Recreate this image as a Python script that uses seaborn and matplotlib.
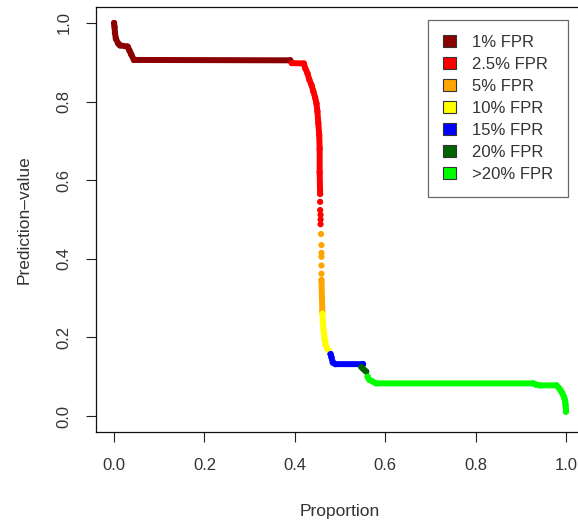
import matplotlib
matplotlib.use("Agg")
import matplotlib.pyplot as plt
from matplotlib.patches import Patch
import numpy as np
import pandas as pd
import seaborn as sns

# FPR classes and their colours
fpr_classes = ["1% FPR", "2.5% FPR", "5% FPR", "10% FPR", "15% FPR", "20% FPR", ">20% FPR"]
fpr_colors = ["#8B0000", "#FF0000", "#FFA500", "#FFFF00", "#0000FF", "#006400", "#00FF00"]

# Sorted prediction values against their proportion; dense runs of samples
# per class are listed by the vertices of the run.
p1_x = [0.000, 0.001, 0.002, 0.004, 0.009, 0.013, 0.030, 0.034, 0.038, 0.044, 0.390]
p1_y = [1.000, 0.990, 0.975, 0.960, 0.948, 0.943, 0.940, 0.930, 0.920, 0.906, 0.905]

p2_x = [0.393, 0.420, 0.423, 0.428, 0.432, 0.437, 0.441, 0.445, 0.448, 0.450, 0.452, 0.454, 0.455, 0.455, 0.456]
p2_y = [0.898, 0.897, 0.885, 0.872, 0.856, 0.842, 0.826, 0.810, 0.795, 0.775, 0.745, 0.715, 0.680, 0.620, 0.565]
p2_sparse_x = [0.456, 0.456, 0.457, 0.457, 0.457]
p2_sparse_y = [0.545, 0.524, 0.512, 0.500, 0.488]

p3_x = [0.459, 0.460, 0.461]
p3_y = [0.346, 0.300, 0.265]
p3_sparse_x = [0.458, 0.459, 0.459, 0.459, 0.459, 0.459]
p3_sparse_y = [0.463, 0.435, 0.415, 0.405, 0.383, 0.362]

p4_x = [0.461, 0.462, 0.464, 0.466, 0.468, 0.471, 0.474]
p4_y = [0.261, 0.240, 0.215, 0.195, 0.182, 0.172, 0.168]

p5_x = [0.479, 0.481, 0.484, 0.490, 0.551]
p5_y = [0.158, 0.150, 0.136, 0.132, 0.132]

p6_x = [0.547, 0.552, 0.558]
p6_y = [0.125, 0.119, 0.113]

p7_x = [0.561, 0.565, 0.572, 0.580, 0.928, 0.933, 0.942, 0.979, 0.984, 0.988, 0.991, 0.994, 0.996, 0.998, 0.999, 1.000, 1.000]
p7_y = [0.100, 0.092, 0.088, 0.083, 0.083, 0.080, 0.078, 0.078, 0.072, 0.066, 0.060, 0.053, 0.047, 0.040, 0.030, 0.020, 0.011]

runs = [
    (fpr_classes[0], p1_x, p1_y),
    (fpr_classes[1], p2_x, p2_y),
    (fpr_classes[2], p3_x, p3_y),
    (fpr_classes[3], p4_x, p4_y),
    (fpr_classes[4], p5_x, p5_y),
    (fpr_classes[5], p6_x, p6_y),
    (fpr_classes[6], p7_x, p7_y),
]
sparse = [
    (fpr_classes[1], p2_sparse_x, p2_sparse_y),
    (fpr_classes[2], p3_sparse_x, p3_sparse_y),
]

rows = []
for i, (cls, xs, ys) in enumerate(runs):
    for x, y in zip(xs, ys):
        rows.append({"Proportion": x, "Prediction": y, "FPR": cls, "run": i})
runs_df = pd.DataFrame(rows)

rows = []
for cls, xs, ys in sparse:
    for x, y in zip(xs, ys):
        rows.append({"Proportion": x, "Prediction": y, "FPR": cls})
points_df = pd.concat([runs_df.drop(columns="run"), pd.DataFrame(rows)], ignore_index=True)

palette = dict(zip(fpr_classes, fpr_colors))

sns.set_theme(style="white")
plt.rcParams["font.family"] = ["Liberation Sans", "DejaVu Sans"]

fig = plt.figure(figsize=(5.78, 5.24), dpi=100)
ax = fig.add_axes([96 / 578, 92 / 524, 488 / 578, 425 / 524])

sns.lineplot(data=runs_df, x="Proportion", y="Prediction", hue="FPR", units="run",
             estimator=None, sort=False, palette=palette, hue_order=fpr_classes,
             linewidth=4.3, solid_capstyle="round", solid_joinstyle="round",
             legend=False, ax=ax)
sns.scatterplot(data=points_df, x="Proportion", y="Prediction", hue="FPR",
                palette=palette, hue_order=fpr_classes, s=20, linewidth=0,
                legend=False, ax=ax)

ax.set_xlim(-0.04, 1.04)
ax.set_ylim(-0.0407, 1.0407)
ticks = [0.0, 0.2, 0.4, 0.6, 0.8, 1.0]
ax.set_xticks(ticks)
ax.set_yticks(ticks)
ax.set_xticklabels([f"{t:.1f}" for t in ticks])
ax.set_yticklabels([f"{t:.1f}" for t in ticks], rotation=90, va="center")

text_color = "#333333"
ax.tick_params(axis="both", which="major", bottom=True, left=True,
               direction="out", length=7.5, width=0.8, color="#222222",
               labelsize=12, labelcolor=text_color)
ax.tick_params(axis="x", pad=11)
ax.tick_params(axis="y", pad=10)
for sp in ax.spines.values():
    sp.set_color("#111111")
    sp.set_linewidth(0.9)

ax.set_xlabel("Proportion", fontsize=12.5, color=text_color, labelpad=22.5)
ax.set_ylabel("Prediction\u2013value", fontsize=12.5, color=text_color, labelpad=18)

handles = [Patch(facecolor=c, edgecolor="#333333", linewidth=0.8) for c in fpr_colors]
leg = ax.legend(handles, fpr_classes, loc="upper right",
                bbox_to_anchor=(568 / 578, 1 - 20 / 524), bbox_transform=fig.transFigure,
                borderaxespad=0, fancybox=False, frameon=True, fontsize=12,
                handlelength=0.8, handleheight=0.68, handletextpad=0.95,
                labelspacing=0.42, borderpad=0.9)
leg.get_frame().set_edgecolor("#444444")
leg.get_frame().set_linewidth(0.9)
for t in leg.get_texts():
    t.set_color(text_color)

fig.savefig("out.png", dpi=100)
